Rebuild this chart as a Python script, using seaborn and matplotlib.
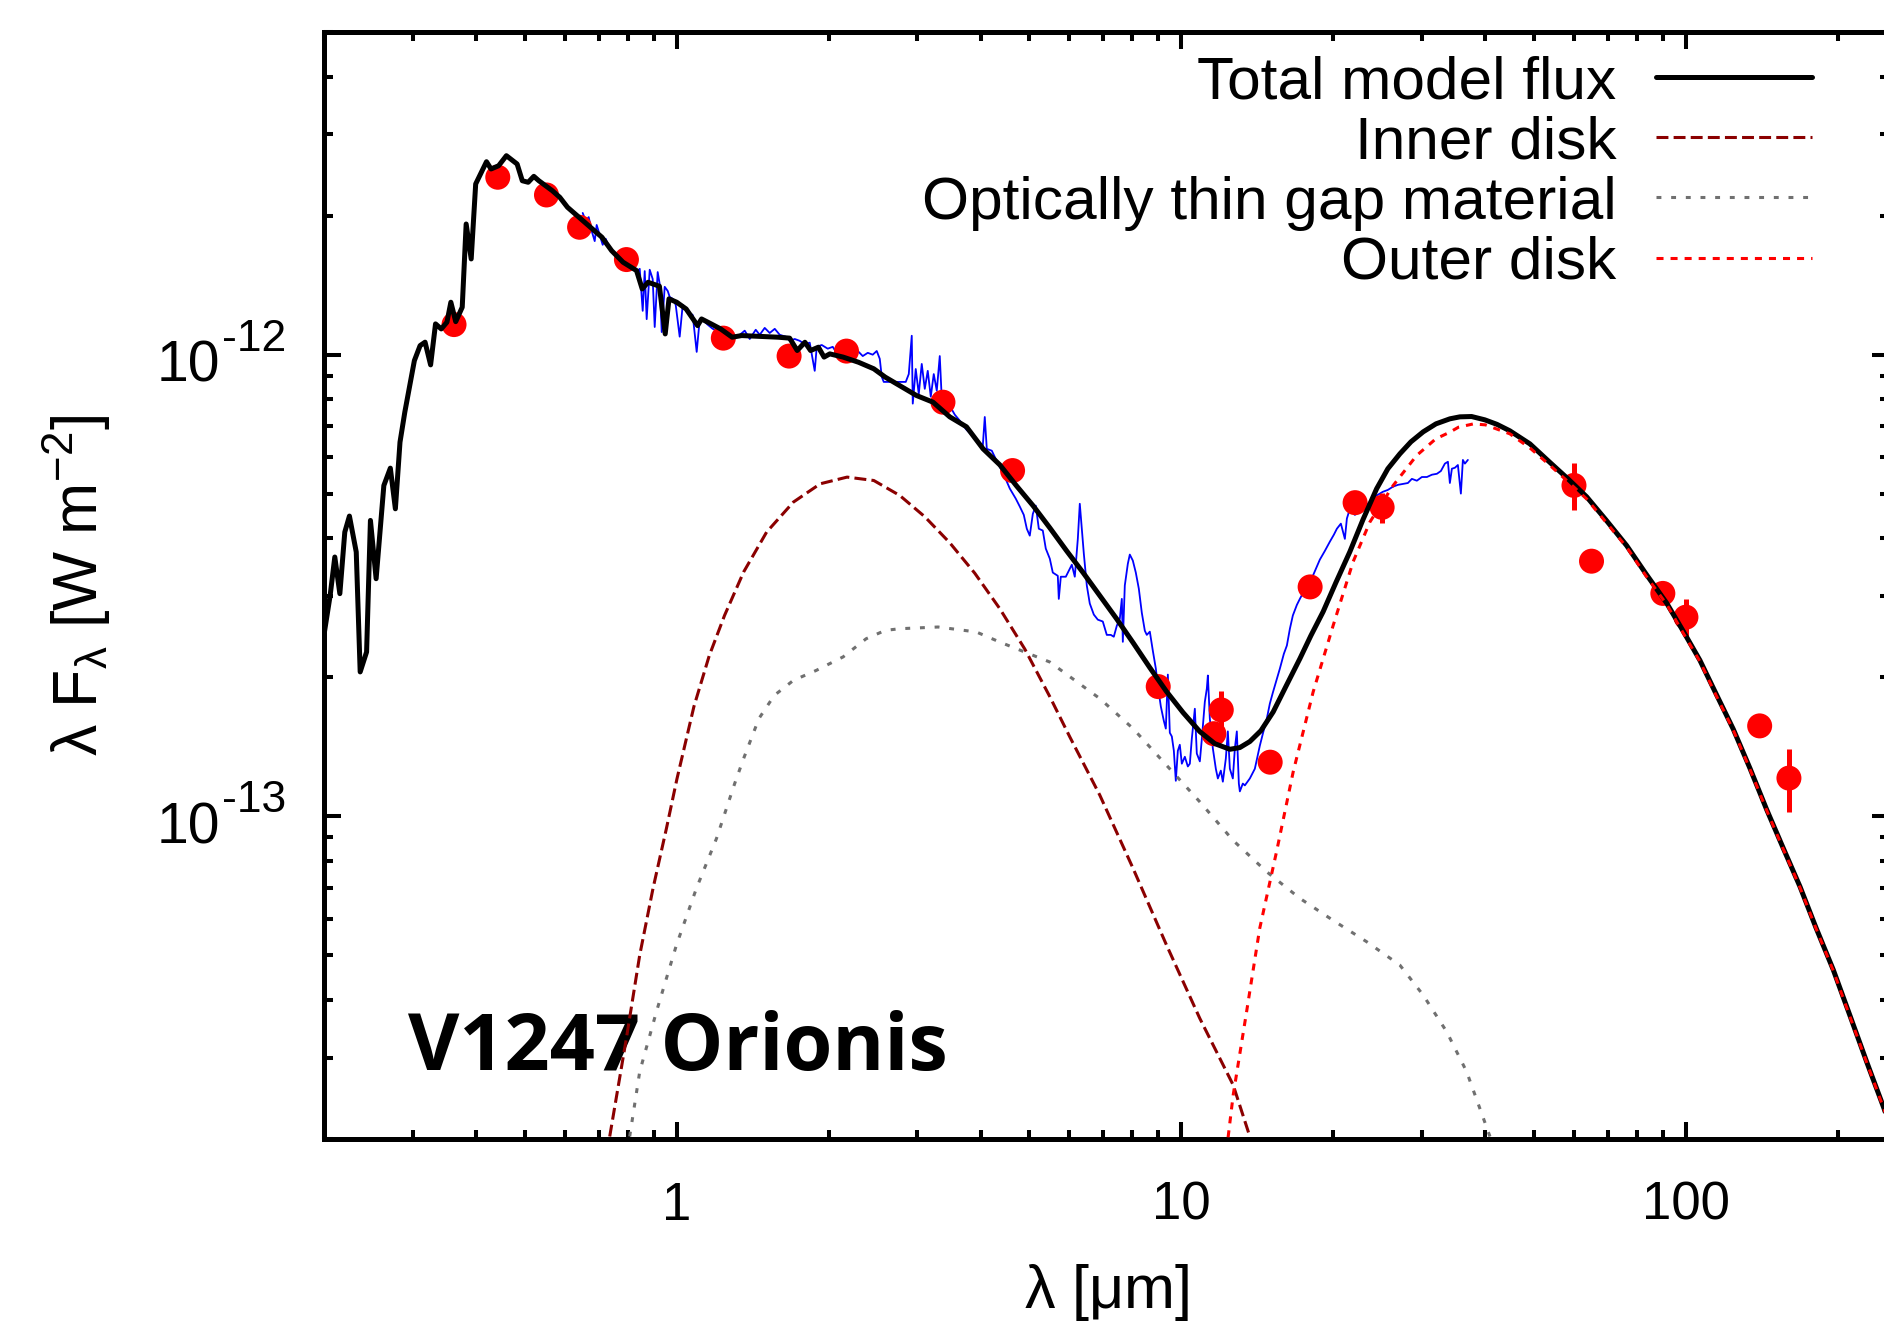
import numpy as np
import pandas as pd
import matplotlib
matplotlib.use("Agg")
import matplotlib.pyplot as plt
from matplotlib.ticker import LogLocator, FuncFormatter, NullFormatter
from matplotlib.lines import Line2D
import seaborn as sns

# ---------------------------------------------------------------- data
# photometry (wavelength in micron, lambda F_lambda in 1e-12 W m^-2)
phot_wave = [0.362, 0.442, 0.552, 0.642, 0.795, 1.237, 1.67, 2.17, 3.37, 4.63,
             9.0, 11.6, 12.0, 15.0, 18.0, 22.1, 25.0, 60.0, 65.0, 90.0, 100.0, 140.0, 160.0]
phot_flux = [1.162, 2.423, 2.218, 1.888, 1.607, 1.086, 0.993, 1.018, 0.789, 0.561,
             0.191, 0.151, 0.170, 0.131, 0.314, 0.478, 0.467, 0.521, 0.357, 0.304, 0.270, 0.157, 0.121]
phot_err = [0, 0, 0, 0, 0, 0, 0, 0, 0, 0,
            0, 0, 0.017, 0, 0, 0, 0.035, 0.061, 0, 0, 0.026, 0.006, 0.019]

# total model flux (micron, 1e-12 W m^-2)
model_wave = [0.2004, 0.2057, 0.2101, 0.2150, 0.2199, 0.2246, 0.2317, 0.2359, 0.2429, 0.2472,
              0.2537, 0.2628, 0.2707, 0.2770, 0.2829, 0.2892, 0.3021, 0.3101, 0.3172, 0.3253,
              0.3327, 0.3415, 0.3505, 0.3568, 0.3648, 0.3758, 0.3826, 0.3915, 0.3996, 0.4198,
              0.4286, 0.4437, 0.4597, 0.4828, 0.4943, 0.5078, 0.5210, 0.5331, 0.5668, 0.5866,
              0.6075, 0.6291, 0.6575, 0.6868, 0.7110, 0.7430, 0.7828, 0.8325, 0.8543, 0.8772,
              0.9241, 0.9489, 0.9654, 1.000, 1.044, 1.100, 1.120, 1.170, 1.222, 1.288,
              1.345, 1.455, 1.589, 1.674, 1.733, 1.795, 1.842, 1.909, 1.959, 2.011,
              2.137, 2.292, 2.458, 2.590, 2.767, 2.987, 3.221, 3.476, 3.752, 4.047,
              4.368, 4.713, 5.085, 5.487, 5.923, 6.389, 6.895, 7.440, 8.025, 8.662,
              9.348, 10.08, 10.88, 11.65, 12.48, 13.06, 13.67, 14.38, 15.21, 16.11,
              17.18, 18.06, 19.10, 20.24, 21.58, 22.90, 24.38, 25.66, 27.11, 28.51,
              30.15, 31.96, 34.06, 35.65, 37.60, 39.95, 42.22, 44.78, 49.07, 53.76,
              58.36, 63.57, 69.40, 76.29, 83.29, 91.56, 98.65, 106.6, 114.7, 124.1,
              134.0, 144.5, 155.7, 168.3, 181.0, 195.9, 211.4, 228.1, 246.9, 265.6]
model_flux = [0.2508, 0.3010, 0.3645, 0.3036, 0.4127, 0.4471, 0.3737, 0.2055, 0.2270, 0.4375,
              0.3271, 0.5207, 0.5678, 0.4636, 0.6464, 0.7510, 0.9710, 1.0464, 1.0643, 0.9504,
              1.166, 1.137, 1.176, 1.299, 1.179, 1.267, 1.919, 1.612, 2.343, 2.618,
              2.525, 2.566, 2.698, 2.588, 2.381, 2.363, 2.434, 2.381, 2.266, 2.192,
              2.086, 2.018, 1.935, 1.856, 1.796, 1.680, 1.586, 1.521, 1.388, 1.435,
              1.407, 1.109, 1.321, 1.299, 1.256, 1.156, 1.195, 1.166, 1.137, 1.091,
              1.100, 1.096, 1.091, 1.086, 1.021, 1.064, 1.021, 1.038, 0.988, 1.004,
              0.988, 0.963, 0.932, 0.894, 0.857, 0.8157, 0.789, 0.7334, 0.6978, 0.6253,
              0.5773, 0.5200, 0.4707, 0.4217, 0.3761, 0.3371, 0.3005, 0.2680, 0.2377, 0.2099,
              0.1863, 0.1678, 0.1526, 0.1437, 0.1397, 0.1409, 0.1452, 0.1533, 0.1684, 0.1910,
              0.2196, 0.2462, 0.2775, 0.3207, 0.3743, 0.4388, 0.5123, 0.5661, 0.6099, 0.6474,
              0.6805, 0.7082, 0.7262, 0.7334, 0.7346, 0.7225, 0.7064, 0.6840, 0.6409, 0.5843,
              0.5384, 0.4922, 0.4388, 0.3860, 0.3354, 0.2898, 0.2524, 0.2177, 0.1844, 0.1545,
              0.1269, 0.1035, 0.0856, 0.0704, 0.0574, 0.0465, 0.0370, 0.0294, 0.0233, 0.01817]

# inner disk
inner_wave = [0.7366, 0.7948, 0.8447, 0.8975, 0.9541, 1.0014, 1.0817, 1.160, 1.244, 1.357,
              1.507, 1.703, 1.925, 2.176, 2.458, 2.767, 3.102, 3.476, 3.896, 4.368,
              4.895, 5.487, 6.012, 6.895, 8.025, 9.348, 10.88, 12.67, 13.67]
inner_flux = [0.02025, 0.03304, 0.05005, 0.06979, 0.09410, 0.1207, 0.1729, 0.2228, 0.2724, 0.3382,
              0.4127, 0.4794, 0.5252, 0.5430, 0.5339, 0.4955, 0.4456, 0.3914, 0.3363, 0.2817,
              0.2304, 0.1817, 0.1486, 0.1111, 0.0771, 0.0526, 0.0365, 0.02618, 0.02025]

# optically thin gap material
gap_wave = [0.8069, 0.8447, 0.9116, 0.9986, 1.094, 1.199, 1.303, 1.357, 1.455, 1.561,
            1.703, 1.891, 2.137, 2.374, 2.590, 2.767, 3.296, 3.924, 4.368, 5.487,
            6.895, 8.025, 9.348, 10.88, 12.67, 14.75, 17.18, 20.00, 23.29, 27.11,
            30.15, 33.56, 36.76, 40.89]
gap_flux = [0.02025, 0.02799, 0.03774, 0.0526, 0.06979, 0.08953, 0.1178, 0.1334, 0.1628, 0.1828,
            0.1970, 0.2071, 0.2215, 0.2425, 0.2528, 0.2549, 0.2571, 0.2508, 0.2385, 0.2159,
            0.1799, 0.1549, 0.1290, 0.1075, 0.08864, 0.0759, 0.06641, 0.05949, 0.05351, 0.04761,
            0.04100, 0.03416, 0.02799, 0.02025]

# outer disk
outer_wave = [12.38, 12.67, 13.47, 14.30, 15.44, 16.66, 18.25, 20.00, 21.90, 23.64,
              26.29, 29.26, 31.93, 34.06, 35.43, 37.88, 40.05, 44.78, 49.07, 53.76,
              58.36, 63.57, 69.40, 76.29, 83.29, 91.56, 98.65, 106.6, 114.7, 124.1,
              134.0, 144.5, 155.7, 168.3, 181.0, 195.9, 211.4, 228.1, 246.9, 265.6]
outer_flux = [0.02017, 0.02490, 0.03774, 0.05716, 0.08377, 0.1248, 0.1860, 0.2593, 0.3560, 0.4339,
              0.5207, 0.6047, 0.6571, 0.6795, 0.6966, 0.7079, 0.7047, 0.6738, 0.6280, 0.5759,
              0.5310, 0.487, 0.434, 0.383, 0.332, 0.288, 0.250, 0.2165, 0.183, 0.1538,
              0.1263, 0.1031, 0.0852, 0.0701, 0.0572, 0.0463, 0.0368, 0.0293, 0.0232, 0.0181]

# observed spectrum: log10(wavelength / micron), log10(lambda F_lambda / W m^-2)
spec_logwave = [
    -0.1863, -0.1804, -0.1744, -0.1685, -0.1625, -0.1586, -0.1526, -0.1467, -0.1407, -0.1328,
    -0.1249, -0.1170, -0.1090, -0.1011, -0.0932, -0.0852, -0.0793, -0.0733, -0.0674, -0.0634,
    -0.0595, -0.0535, -0.0476, -0.0436, -0.0377, -0.0337, -0.0297, -0.0238, -0.0178, -0.0139,
    -0.0079, -0.0020, 0.0059, 0.0119, 0.0198, 0.0258, 0.0317, 0.0396, 0.0456, 0.0535,
    0.0614, 0.0714, 0.0813, 0.0912, 0.1011, 0.1110, 0.1249, 0.1348, 0.1447, 0.1566,
    0.1645, 0.1744, 0.1843, 0.1943, 0.2042, 0.2161, 0.2240, 0.2339, 0.2438, 0.2537,
    0.2636, 0.2735, 0.2775, 0.2874, 0.2993, 0.3092, 0.3191, 0.3290, 0.3390, 0.3489,
    0.3588, 0.3687, 0.3786, 0.3885, 0.3964, 0.4024, 0.4064, 0.4103, 0.4321, 0.4539,
    0.4599, 0.4658, 0.4678, 0.4737, 0.4797, 0.4856, 0.4916, 0.4975, 0.5035, 0.5094,
    0.5154, 0.5213, 0.5253, 0.5332, 0.5411, 0.5511, 0.5610, 0.5729, 0.5847, 0.5966,
    0.6066, 0.6105, 0.6145, 0.6244, 0.6323, 0.6403, 0.6502, 0.6601, 0.6720, 0.6799,
    0.6878, 0.6938, 0.6997, 0.7057, 0.7116, 0.7176, 0.7255, 0.7314, 0.7394, 0.7453,
    0.7552, 0.7572, 0.7612, 0.7711, 0.7790, 0.7830, 0.7889, 0.7949, 0.7988, 0.8028,
    0.8068, 0.8127, 0.8186, 0.8266, 0.8345, 0.8444, 0.8523, 0.8603, 0.8662, 0.8722,
    0.8781, 0.8821, 0.8841, 0.8880, 0.8940, 0.8979, 0.9039, 0.9098, 0.9158, 0.9217,
    0.9277, 0.9316, 0.9376, 0.9435, 0.9495, 0.9534, 0.9594, 0.9653, 0.9693, 0.9733,
    0.9772, 0.9812, 0.9852, 0.9891, 0.9931, 0.9970, 1.0010, 1.0070, 1.0129, 1.0169,
    1.0208, 1.0268, 1.0307, 1.0367, 1.0407, 1.0466, 1.0506, 1.0526, 1.0565, 1.0625,
    1.0684, 1.0724, 1.0783, 1.0823, 1.0882, 1.0922, 1.0962, 1.1021, 1.1061, 1.1100,
    1.1140, 1.1160, 1.1219, 1.1259, 1.1358, 1.1457, 1.1556, 1.1616, 1.1695, 1.1754,
    1.1814, 1.1893, 1.1953, 1.2032, 1.2092, 1.2151, 1.2210, 1.2290, 1.2349, 1.2428,
    1.2488, 1.2547, 1.2607, 1.2686, 1.2745, 1.2845, 1.2944, 1.3023, 1.3083, 1.3162,
    1.3241, 1.3281, 1.3340, 1.3439, 1.3538, 1.3637, 1.3737, 1.3856, 1.3994, 1.4093,
    1.4193, 1.4292, 1.4391, 1.4490, 1.4569, 1.4668, 1.4767, 1.4867, 1.4966, 1.5065,
    1.5144, 1.5223, 1.5283, 1.5322, 1.5362, 1.5421, 1.5481, 1.5540, 1.5580, 1.5620,
    1.5679]
spec_logflux = [
    -11.693, -11.710, -11.702, -11.732, -11.754, -11.719, -11.741, -11.762, -11.749, -11.771,
    -11.780, -11.788, -11.797, -11.801, -11.810, -11.810, -11.821, -11.814, -11.905, -11.819,
    -11.923, -11.816, -11.836, -11.940, -11.821, -11.847, -11.951, -11.853, -11.862, -11.875,
    -11.879, -11.892, -11.961, -11.892, -11.901, -11.910, -11.914, -11.994, -11.923, -11.927,
    -11.935, -11.944, -11.948, -11.953, -11.955, -11.959, -11.957, -11.948, -11.966, -11.946,
    -11.957, -11.942, -11.953, -11.944, -11.957, -11.961, -11.970, -11.966, -11.970, -11.977,
    -11.974, -12.035, -11.983, -11.979, -11.987, -11.983, -12.000, -11.992, -12.005, -11.998,
    -11.992, -12.003, -11.996, -12.000, -11.992, -12.009, -12.048, -12.059, -12.059, -12.059,
    -12.042, -11.959, -12.106, -12.031, -12.085, -12.020, -12.074, -12.035, -12.091, -12.042,
    -12.078, -12.003, -12.096, -12.104, -12.111, -12.130, -12.143, -12.161, -12.174, -12.187,
    -12.197, -12.135, -12.204, -12.208, -12.226, -12.243, -12.265, -12.290, -12.312, -12.329,
    -12.347, -12.377, -12.392, -12.345, -12.327, -12.377, -12.381, -12.420, -12.442, -12.472,
    -12.479, -12.529, -12.481, -12.481, -12.464, -12.455, -12.481, -12.399, -12.323, -12.377,
    -12.431, -12.500, -12.539, -12.563, -12.574, -12.578, -12.607, -12.607, -12.611, -12.587,
    -12.572, -12.529, -12.622, -12.500, -12.453, -12.433, -12.446, -12.472, -12.507, -12.559,
    -12.598, -12.607, -12.600, -12.641, -12.680, -12.717, -12.762, -12.793, -12.810, -12.693,
    -12.819, -12.827, -12.858, -12.923, -12.858, -12.845, -12.886, -12.871, -12.892, -12.886,
    -12.832, -12.767, -12.864, -12.881, -12.832, -12.752, -12.723, -12.695, -12.788, -12.853,
    -12.897, -12.918, -12.901, -12.925, -12.875, -12.816, -12.897, -12.918, -12.853, -12.816,
    -12.929, -12.946, -12.929, -12.933, -12.918, -12.897, -12.847, -12.821, -12.788, -12.756,
    -12.732, -12.702, -12.680, -12.648, -12.630, -12.594, -12.565, -12.542, -12.529, -12.513,
    -12.507, -12.490, -12.479, -12.459, -12.444, -12.425, -12.405, -12.390, -12.377, -12.366,
    -12.399, -12.355, -12.334, -12.347, -12.340, -12.329, -12.319, -12.306, -12.297, -12.293,
    -12.286, -12.282, -12.280, -12.278, -12.269, -12.273, -12.265, -12.265, -12.260, -12.258,
    -12.252, -12.236, -12.232, -12.278, -12.247, -12.245, -12.239, -12.301, -12.228, -12.236,
    -12.228]

legend_labels = ["Total model flux", "Inner disk", "Optically thin gap material", "Outer disk"]
x_label = r"$\mathregular{λ\ [μm]}$"
y_label = r"$\mathregular{λ\ F_{λ}\ [W\ m^{-2}]}$"
ytick_values = [1e-13, 1e-12]
ytick_exponents = ["-13", "-12"]
object_name = "V1247 Orionis"

FLUX_UNIT = 1e-12

# ---------------------------------------------------------------- style
sns.set_style("ticks")
plt.rcParams["font.family"] = ["Liberation Sans", "DejaVu Sans"]
plt.rcParams["mathtext.fontset"] = "custom"
plt.rcParams["mathtext.rm"] = "Liberation Sans"
plt.rcParams["mathtext.it"] = "Liberation Sans:italic"
plt.rcParams["mathtext.bf"] = "Liberation Sans:bold"
for key in ["text.color", "axes.labelcolor", "xtick.color", "ytick.color", "axes.edgecolor"]:
    plt.rcParams[key] = "black"

W, H = 1884, 1321
fig = plt.figure(figsize=(W / 100, H / 100), dpi=100)
ax_left, ax_right, ax_top, ax_bottom = 324, 1889, 32, 1139
ax = fig.add_axes([ax_left / W, (H - ax_bottom) / H, (ax_right - ax_left) / W, (ax_bottom - ax_top) / H])

df_model = pd.DataFrame({"wave": model_wave, "flux": np.array(model_flux) * FLUX_UNIT})
df_inner = pd.DataFrame({"wave": inner_wave, "flux": np.array(inner_flux) * FLUX_UNIT})
df_gap = pd.DataFrame({"wave": gap_wave, "flux": np.array(gap_flux) * FLUX_UNIT})
df_outer = pd.DataFrame({"wave": outer_wave, "flux": np.array(outer_flux) * FLUX_UNIT})
df_spec = pd.DataFrame({"wave": 10 ** np.array(spec_logwave), "flux": 10 ** np.array(spec_logflux)})
df_phot = pd.DataFrame({"wave": phot_wave, "flux": np.array(phot_flux) * FLUX_UNIT,
                        "err": np.array(phot_err) * FLUX_UNIT})

ax.set_xscale("log")
ax.set_yscale("log")

# spectrum
sns.lineplot(data=df_spec, x="wave", y="flux", ax=ax, color="#0000ff", lw=1.3,
             sort=False, estimator=None, errorbar=None, zorder=2)

# photometry
df_err = df_phot[df_phot["err"] > 0]
ax.errorbar(df_err["wave"], df_err["flux"], yerr=df_err["err"], fmt="none",
            ecolor="#ff0000", elinewidth=3.6, capsize=0, zorder=3)
sns.scatterplot(data=df_phot, x="wave", y="flux", ax=ax, s=18 ** 2, color="#ff0000",
                edgecolor="none", linewidth=0, zorder=3, legend=False)

# model and components
sns.lineplot(data=df_model, x="wave", y="flux", ax=ax, color="black", lw=3.6,
             sort=False, estimator=None, errorbar=None, zorder=4)
sns.lineplot(data=df_inner, x="wave", y="flux", ax=ax, color="#8b0000", lw=2.2,
             sort=False, estimator=None, errorbar=None, zorder=5)
ax.lines[-1].set_dashes([3.9, 1.7])
sns.lineplot(data=df_gap, x="wave", y="flux", ax=ax, color="#707070", lw=2.2,
             sort=False, estimator=None, errorbar=None, zorder=5)
ax.lines[-1].set_dashes([1.6, 3.2])
sns.lineplot(data=df_outer, x="wave", y="flux", ax=ax, color="#ff0000", lw=2.2,
             sort=False, estimator=None, errorbar=None, zorder=6)
ax.lines[-1].set_dashes([2.3, 2.3])

ax.set_xlim(0.2, 252.6)
ax.set_ylim(2e-14, 5e-12)

# axes styling
for sp in ax.spines.values():
    sp.set_linewidth(3.6)
    sp.set_color("black")
    sp.set_visible(True)

ax.xaxis.set_major_locator(LogLocator(base=10))
ax.xaxis.set_minor_locator(LogLocator(base=10, subs=np.arange(2, 10)))
ax.yaxis.set_major_locator(LogLocator(base=10))
ax.yaxis.set_minor_locator(LogLocator(base=10, subs=np.arange(2, 10)))
ax.xaxis.set_major_formatter(FuncFormatter(lambda v, p: f"{v:g}"))
ax.xaxis.set_minor_formatter(NullFormatter())
ax.yaxis.set_major_formatter(NullFormatter())
ax.yaxis.set_minor_formatter(NullFormatter())

ax.tick_params(which="both", direction="in", top=True, right=True, width=2.9, color="black")
ax.tick_params(which="major", length=12.5, pad=30, labelsize=38, labelcolor="black")
ax.tick_params(which="minor", length=6.5)

# y tick labels (10 with raised exponent)
for val, expo in zip(ytick_values, ytick_exponents):
    ax.annotate("10", xy=(0, val), xycoords=("axes fraction", "data"), xytext=(-104, -27),
                textcoords="offset pixels", ha="right", va="baseline", fontsize=41)
    ax.annotate(expo, xy=(0, val), xycoords=("axes fraction", "data"), xytext=(-102, 4),
                textcoords="offset pixels", ha="left", va="baseline", fontsize=32)

ax.set_xlabel(x_label, fontsize=44)
ax.xaxis.set_label_coords(0.5, -0.111)
ax.set_ylabel(y_label, fontsize=45)
ax.yaxis.set_label_coords(-0.135, 0.5)

ax.text(0.0537, 0.0623, object_name, transform=ax.transAxes, fontsize=57,
        fontweight="bold", family=["Open Sans", "DejaVu Sans"], ha="left", va="baseline")

handles = [Line2D([], [], color="black", lw=3.6),
           Line2D([], [], color="#8b0000", lw=2.2, dashes=[3.9, 1.7]),
           Line2D([], [], color="#707070", lw=2.2, dashes=[1.6, 3.2]),
           Line2D([], [], color="#ff0000", lw=2.2, dashes=[2.3, 2.3])]
ax.legend(handles, legend_labels, loc="upper right", bbox_to_anchor=(0.9508, 0.979),
          frameon=False, markerfirst=False, fontsize=43.5, handlelength=2.58,
          handletextpad=0.66, labelspacing=0.085, borderpad=0, borderaxespad=0)

fig.savefig("out.png", dpi=100)
